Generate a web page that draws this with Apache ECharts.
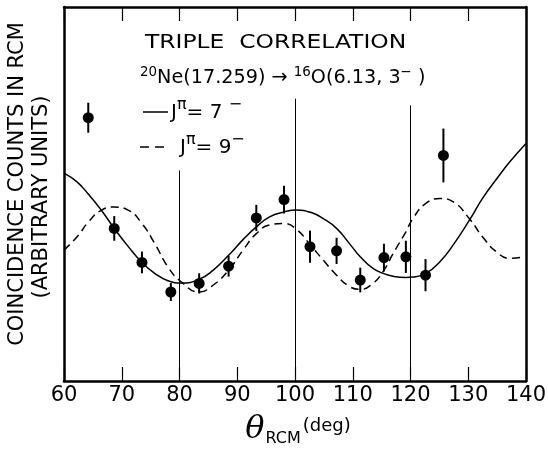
<!DOCTYPE html>
<html>
<head>
<meta charset="UTF-8">
<title>Triple correlation</title>
<script src="https://cdn.jsdelivr.net/npm/echarts@6/dist/echarts.min.js"></script>
<style>
    html, body { margin: 0; padding: 0; background: #fff; }
    #main { width: 548px; height: 451px; }
</style>
</head>
<body>
<div id="main"></div>
<script>
// measured points: angle (deg), counts (arb. units), error
var pointX = [64.2, 68.7, 73.5, 78.5, 83.4, 88.5, 93.3, 98.1, 102.6, 107.2, 111.3, 115.4, 119.2, 122.6, 125.7];
var pointY = [70.4, 40.8, 31.7, 23.8, 26.1, 30.7, 43.6, 48.5, 35.9, 34.8, 27.0, 33.0, 33.2, 28.3, 60.3];
var pointErr = [4.0, 3.3, 2.9, 2.4, 2.7, 2.8, 3.5, 3.7, 4.3, 3.5, 3.3, 3.7, 4.3, 4.3, 7.2];

// J = 7- curve
var solidX = [60, 62.2, 64.2, 66.5, 68.7, 71.1, 73.5, 75.7, 78.0, 80.4, 83.4, 85.8, 88.5, 91.0, 93.3, 95.6, 98.1,
              100.3, 102.7, 104.9, 107.2, 109.5, 111.3, 113.5, 115.4, 117.0, 119.2, 120.4, 122.6, 125.1,
              127.4, 130.2, 132.5, 134.9, 137.2, 140];
var solidY = [55.6, 53.3, 50.0, 45.6, 40.8, 36.0, 31.7, 28.8, 26.8, 26.2, 27.2, 29.6, 33.6, 37.8, 41.2, 43.9, 45.2,
              45.7, 45.1, 43.4, 40.8, 36.6, 33.2, 30.1, 28.7, 28.0, 27.7, 27.8, 28.7, 31.9,
              36.4, 43.0, 48.9, 54.0, 58.6, 63.5];

// J = 9- curve
var dashX = [60, 62.5, 64.2, 66.5, 68.7, 71.1, 73.5, 75.7, 78.0, 80.4, 83.4, 85.8, 88.5, 91.0, 93.3, 95.6,
             98.1, 100.3, 102.7, 104.9, 107.2, 109.5, 111.3, 113.5, 115.4, 117.0, 119.2, 120.4, 122.6,
             125.1, 127.4, 130.2, 132.5, 134.9, 137.2, 139.3];
var dashY = [35.0, 39.0, 42.5, 45.7, 46.5, 45.7, 42.1, 36.8, 30.5, 26.4, 23.8, 25.6, 29.6, 35.0, 39.4, 41.7,
             42.1, 40.5, 36.3, 32.3, 28.3, 25.2, 24.5, 26.1, 29.6, 34.1, 39.9, 43.4, 47.4,
             48.8, 47.9, 43.4, 38.5, 34.5, 32.8, 33.1];

// thin vertical lines: angle and the height where they start
var refX = [80, 100, 120];
var refTop = [56.3, 75.5, 73.7];

var xTicks = ['60', '70', '80', '90', '100', '110', '120', '130', '140'];

var FONT = 'DejaVu Sans';
var BASE = '20px "DejaVu Sans"';

function pairs(xs, ys) {
    return xs.map(function (x, i) { return [x, ys[i]]; });
}

var chart = echarts.init(document.getElementById('main'));

var frameAxis = { show: true, onZero: false, lineStyle: { color: '#000', width: 2.5 } };
var inTicks = { show: true, inside: true, length: 14, lineStyle: { color: '#000', width: 1.2 } };
var supStyle = { fontSize: 16, fontFamily: FONT, lineHeight: 16, padding: [0, 0, 16, 0] };

option = {
    backgroundColor: '#fff',
    animation: false,
    grid: { left: 64, right: 22, top: 7, bottom: 70, outerBoundsMode: 'none' },
    xAxis: [{
        type: 'value', min: 60, max: 140, interval: 10, position: 'bottom',
        axisLine: frameAxis, axisTick: inTicks,
        axisLabel: {
            color: '#000', fontSize: 21, fontFamily: FONT, margin: 4,
            formatter: function (v) { return xTicks[(v - 60) / 10]; }
        },
        splitLine: { show: false }
    }, {
        type: 'value', min: 60, max: 140, interval: 10, position: 'top',
        axisLine: frameAxis, axisTick: inTicks,
        axisLabel: { show: false }, splitLine: { show: false }
    }],
    yAxis: [{
        type: 'value', min: 0, max: 100, position: 'left',
        axisLine: frameAxis,
        axisTick: { show: false }, axisLabel: { show: false }, splitLine: { show: false }
    }, {
        type: 'value', min: 0, max: 100, position: 'right',
        axisLine: frameAxis,
        axisTick: { show: false }, axisLabel: { show: false }, splitLine: { show: false }
    }],
    series: [{
        name: 'J7',
        type: 'line',
        data: pairs(solidX, solidY),
        smooth: 0.5,
        showSymbol: false,
        lineStyle: { color: '#000', width: 1.5 },
        markLine: {
            silent: true,
            symbol: 'none',
            label: { show: false },
            lineStyle: { color: '#000', width: 1, type: 'solid' },
            data: refX.map(function (x, i) {
                return [{ coord: [x, refTop[i]] }, { coord: [x, 0] }];
            })
        }
    }, {
        name: 'J9',
        type: 'line',
        data: pairs(dashX, dashY),
        smooth: 0.5,
        showSymbol: false,
        lineStyle: { color: '#000', width: 1.5, type: [8, 5] }
    }, {
        name: 'err',
        type: 'custom',
        data: pointX.map(function (x, i) { return [x, pointY[i], pointErr[i]]; }),
        renderItem: function (params, api) {
            var x = api.value(0), y = api.value(1), e = api.value(2);
            var a = api.coord([x, y + e]);
            var b = api.coord([x, y - e]);
            return {
                type: 'line',
                shape: { x1: a[0], y1: a[1], x2: b[0], y2: b[1] },
                style: { stroke: '#000', lineWidth: 2 }
            };
        },
        z: 3
    }, {
        name: 'data',
        type: 'scatter',
        data: pairs(pointX, pointY),
        symbol: 'circle',
        symbolSize: 11,
        itemStyle: { color: '#000', opacity: 1 },
        z: 4
    }],
    graphic: [{
        // y axis title, two rotated lines
        type: 'text', x: 18, y: 184, rotation: Math.PI / 2,
        style: {
            text: 'COINCIDENCE COUNTS IN RCM', fill: '#000', font: '21px "DejaVu Sans"',
            align: 'center', textAlign: 'center', verticalAlign: 'middle', textVerticalAlign: 'middle'
        }
    }, {
        type: 'text', x: 42, y: 197, rotation: Math.PI / 2,
        style: {
            text: '(ARBITRARY UNITS)', fill: '#000', font: '21px "DejaVu Sans"',
            align: 'center', textAlign: 'center', verticalAlign: 'middle', textVerticalAlign: 'middle'
        }
    }, {
        type: 'text', x: 145, y: 43, scaleX: 1.17,
        style: {
            text: 'TRIPLE  CORRELATION', fill: '#000', font: BASE,
            verticalAlign: 'middle', textVerticalAlign: 'middle'
        }
    }, {
        type: 'text', x: 140, y: 78, scaleX: 0.96,
        style: {
            text: '{sup|20}Ne(17.259) → {sup|16}O(6.13, 3{sup|−} )', fill: '#000',
            font: BASE, verticalAlign: 'middle', textVerticalAlign: 'middle',
            rich: { sup: { fontSize: 14, fontFamily: FONT, lineHeight: 14, padding: [0, 0, 12, 0] } }
        }
    }, {
        type: 'line', shape: { x1: 143, y1: 112, x2: 168, y2: 112 },
        style: { stroke: '#000', lineWidth: 1.5 }
    }, {
        type: 'text', x: 171, y: 113,
        style: {
            text: 'J{sup|π}= 7 {sup|−}', fill: '#000',
            font: BASE, verticalAlign: 'middle', textVerticalAlign: 'middle',
            rich: { sup: supStyle }
        }
    }, {
        type: 'line', shape: { x1: 140, y1: 147, x2: 170, y2: 147 },
        style: { stroke: '#000', lineWidth: 1.5, lineDash: [9, 6] }
    }, {
        type: 'text', x: 180, y: 148,
        style: {
            text: 'J{sup|π}= 9{sup|−}', fill: '#000',
            font: BASE, verticalAlign: 'middle', textVerticalAlign: 'middle',
            rich: { sup: supStyle }
        }
    }, {
        // x axis title
        type: 'text', x: 298, y: 430,
        style: {
            text: '{th|θ}{sub|RCM}{deg|(deg)}', fill: '#000',
            align: 'center', textAlign: 'center', verticalAlign: 'middle', textVerticalAlign: 'middle',
            font: BASE,
            rich: {
                th: { fontSize: 32, fontStyle: 'italic', fontFamily: 'DejaVu Serif', lineHeight: 34 },
                sub: { fontSize: 16, fontFamily: FONT, lineHeight: 16, padding: [18, 0, 0, 1] },
                deg: { fontSize: 18, fontFamily: FONT, lineHeight: 18, padding: [0, 0, 8, 2] }
            }
        }
    }]
};

chart.setOption(option);
</script>
</body>
</html>
